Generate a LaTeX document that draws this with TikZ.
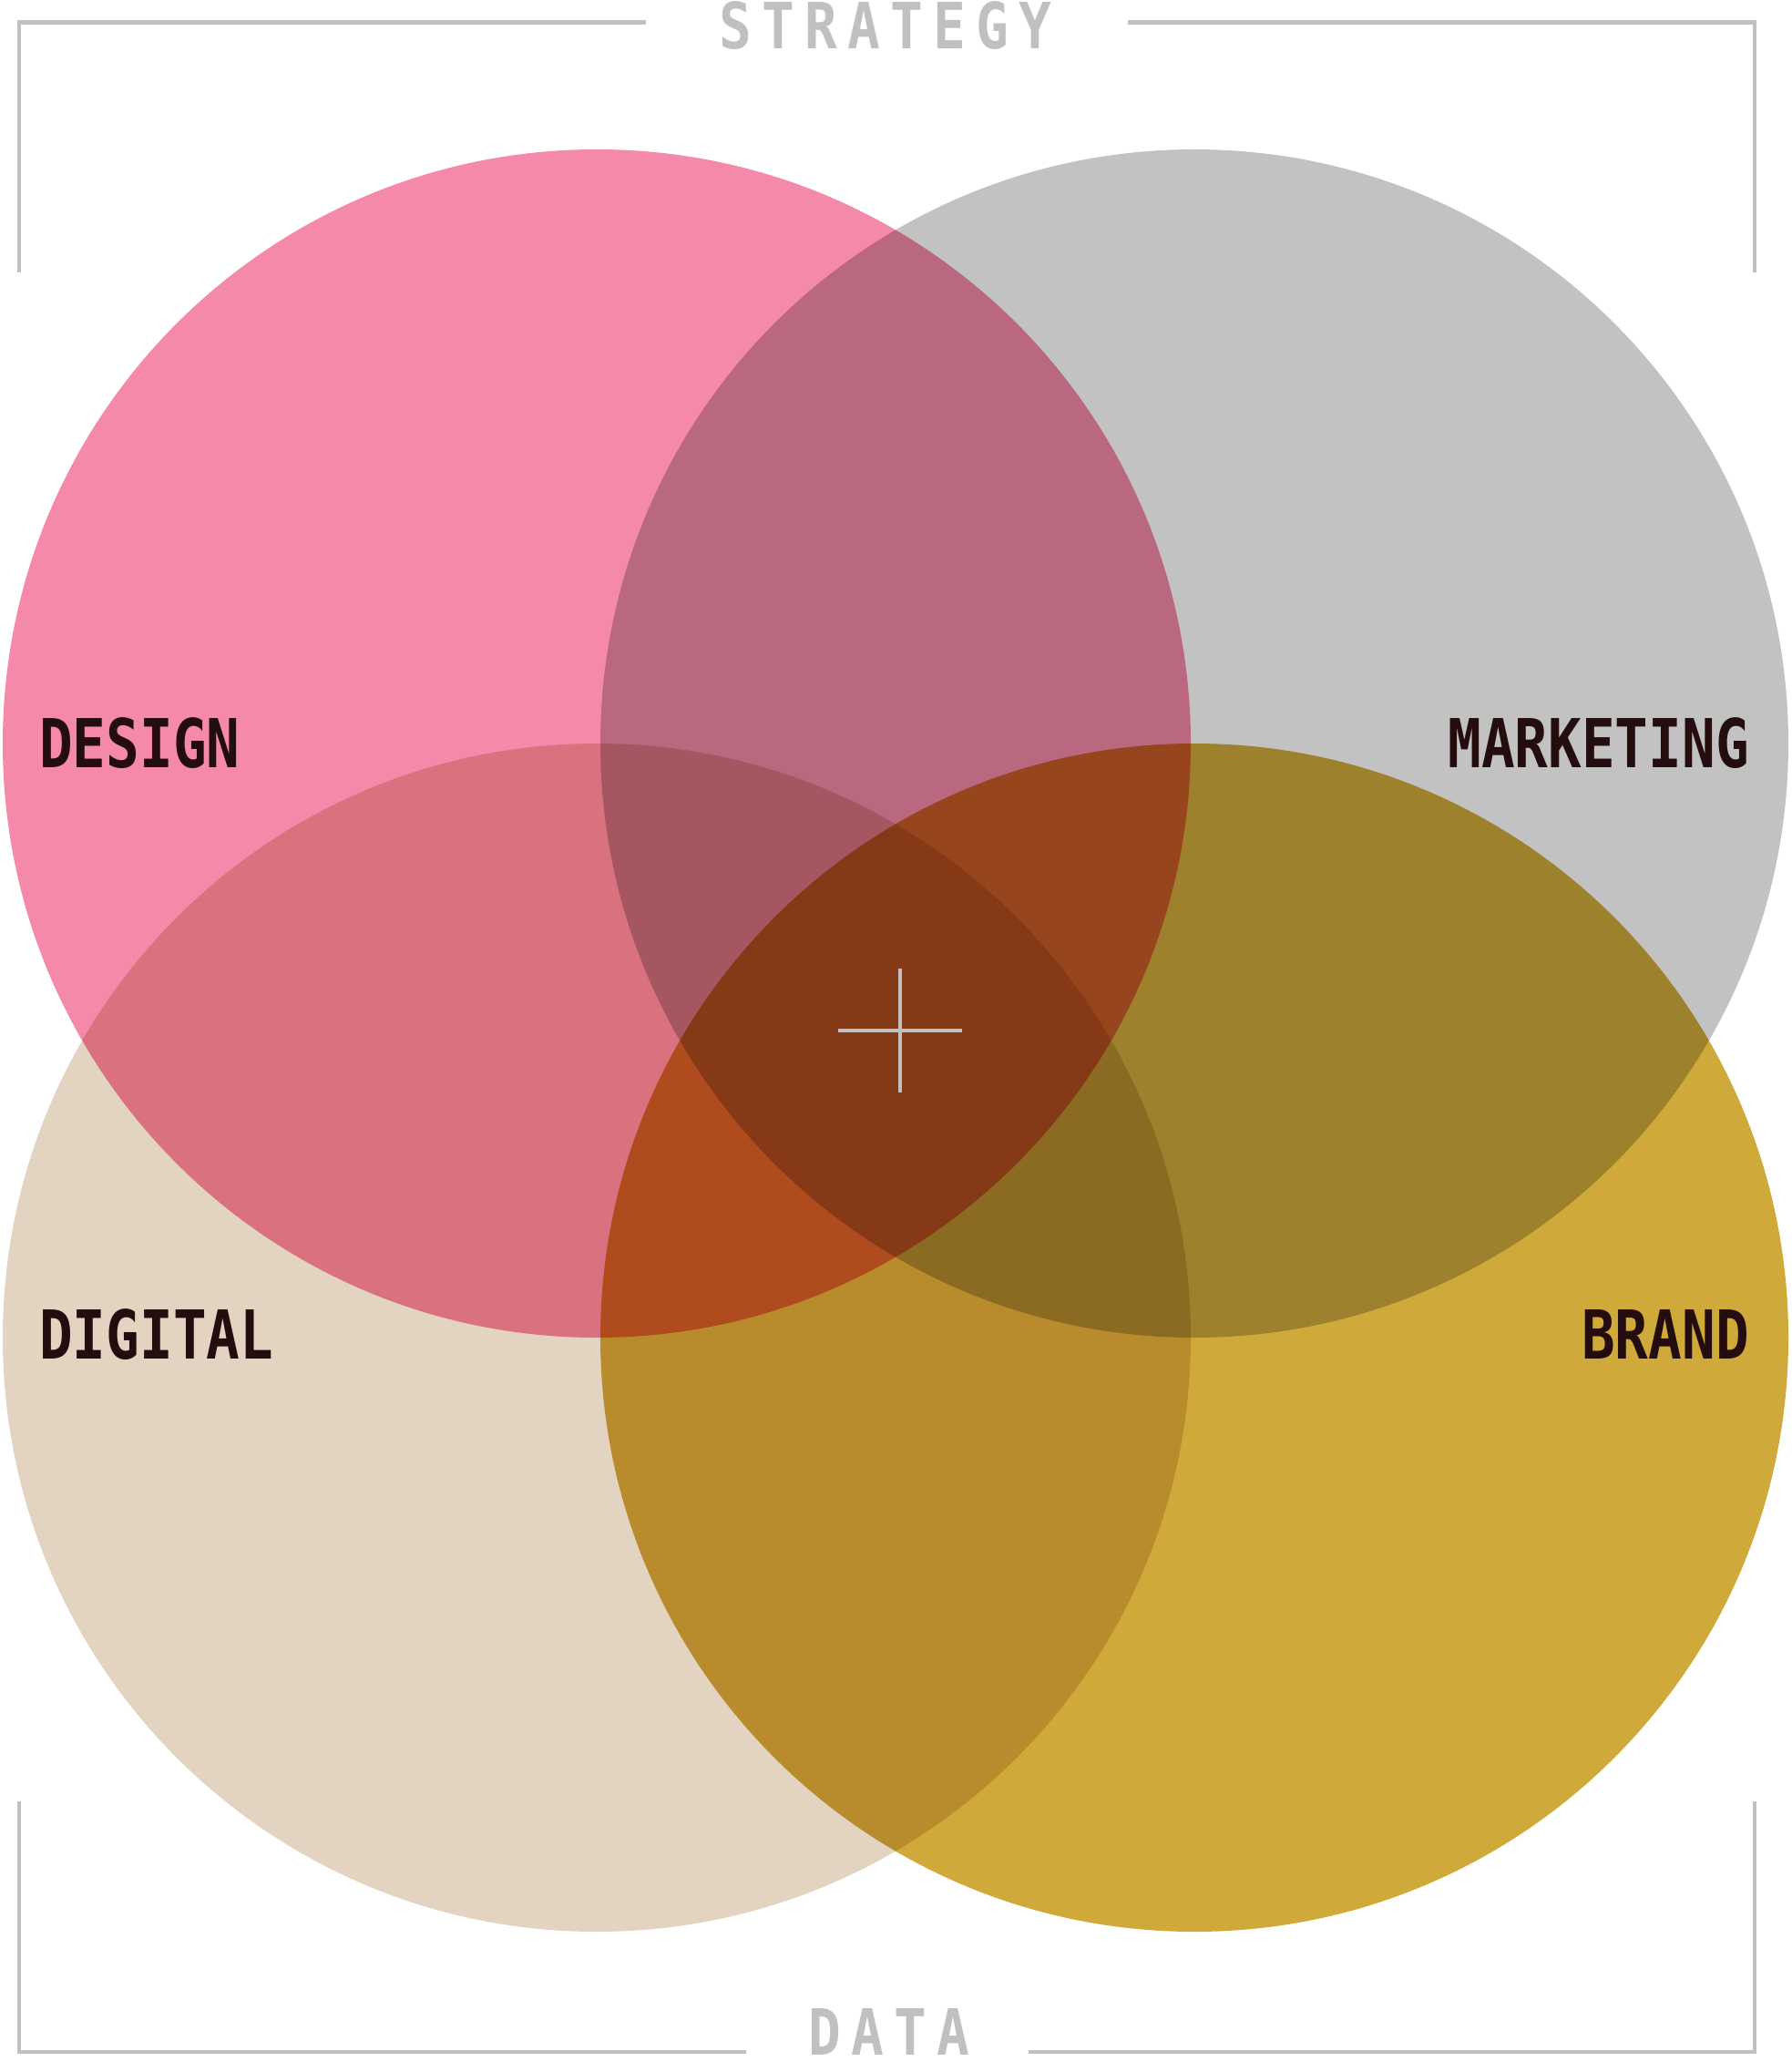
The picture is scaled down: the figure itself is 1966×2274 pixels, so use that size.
\documentclass[tikz,border=0pt]{standalone}
\usepackage{fontspec}
\usetikzlibrary{positioning}
\usepackage{xcolor}
\newfontfamily\pixfont[FakeStretch=0.824,UprightFont={* Bold}]{DejaVu Sans Mono}
\newfontfamily\pixwidefont[FakeStretch=0.85,LetterSpace=16,UprightFont={* Bold}]{DejaVu Sans Mono}
\definecolor{designpink}{HTML}{F589A9}
\definecolor{marketgrey}{HTML}{C2C2C2}
\definecolor{digitalsand}{HTML}{E3D3C1}
\definecolor{brandgold}{HTML}{CFAA3B}
\definecolor{labelink}{HTML}{230D0F}
\definecolor{framegrey}{HTML}{C0C0C0}

\begin{document}
\begin{tikzpicture}[x=1pt,y=-1pt,
    frameline/.style={draw=framegrey, line width=4.5pt},
    setlabel/.style={inner sep=0pt, text=labelink, font=\pixfont\fontsize{74}{74}\selectfont},
    edgelabel/.style={inner sep=0pt, text=framegrey, font=\pixwidefont\fontsize{70}{70}\selectfont}]
\useasboundingbox (0,0) rectangle (1966,2274);

% Four overlapping circles, multiplied where they meet
\begin{scope}[blend group=multiply]
\foreach \name/\col/\x/\y in {design/designpink/655/816, marketing/marketgrey/1311/816, digital/digitalsand/655/1468, brand/brandgold/1311/1468} {
    \fill[\col] (\x,\y) circle [radius=652];
    \coordinate (c\name) at (\x,\y);
}
\end{scope}

% Labels of the circles
\node[setlabel, anchor=base west] (design) at (43,842) {DESIGN};
\node[setlabel, anchor=base east] (marketing) at (1920,842) {MARKETING};
\node[setlabel, anchor=base west] (digital) at (43,1491) {DIGITAL};
\node[setlabel, anchor=base east] (brand) at (1920,1491) {BRAND};

% Centre cross
\coordinate (mid) at (988,1131);
\draw[framegrey, line width=4pt] ([xshift=-68pt]mid) -- ([xshift=68pt]mid);
\draw[framegrey, line width=4pt] ([yshift=68pt]mid) -- ([yshift=-68pt]mid);

% Frame words
\node[edgelabel, anchor=base west] (strategy) at (789,54) {STRATEGY};
\node[edgelabel, anchor=base west] (data) at (887,2255) {DATA};

% Frame corners
\draw[frameline] (21,299) -- (21,24.5) -- (709,24.5);
\draw[frameline] (1238,24.5) -- (1926,24.5) -- (1926,299);
\draw[frameline] (21,1977) -- (21,2252) -- (819,2252);
\draw[frameline] (1129,2252) -- (1926,2252) -- (1926,1977);
\end{tikzpicture}
\end{document}
